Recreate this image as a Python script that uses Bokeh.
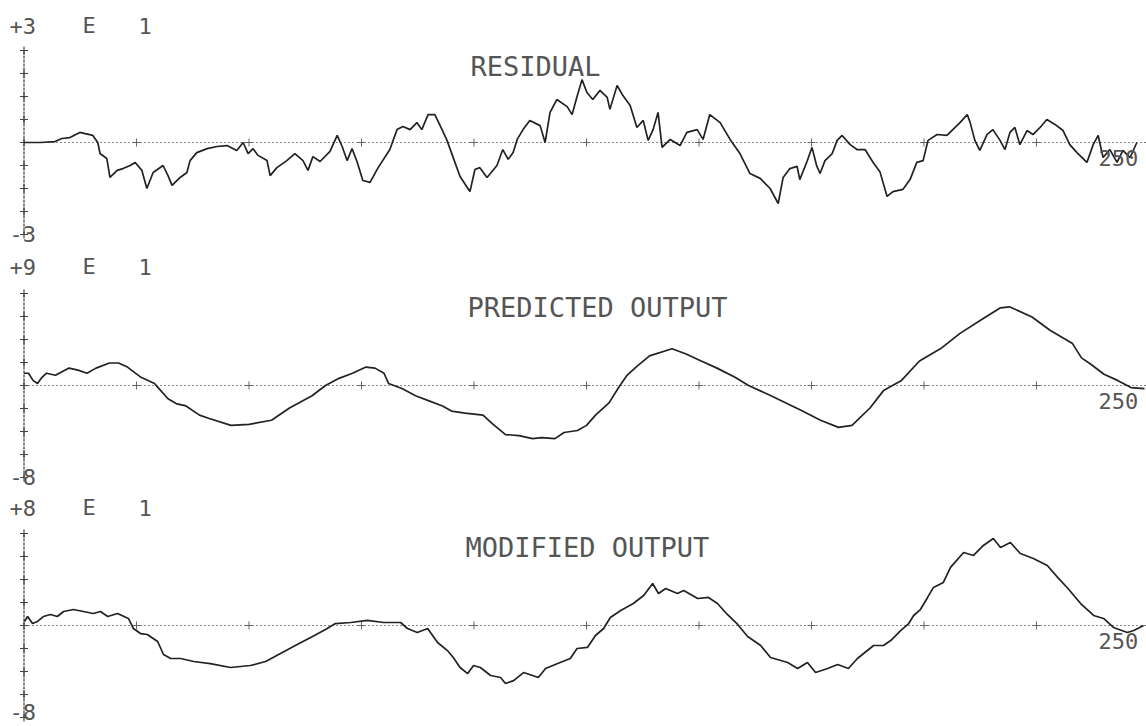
from bokeh.plotting import figure
from bokeh.layouts import column
from bokeh.models import Range1d
from bokeh.core.properties import value
from bokeh.embed import file_html
from bokeh.resources import INLINE

# ---------------- data ----------------
# panel 1: residual (units: axis top = +3 E 1 = 30)
res_x = [0, 3.6, 6.9, 8.4, 10.2, 12.4, 15.3, 16.4, 16.9, 18.4,
         19.1, 20.7, 22, 23.6, 24.7, 26.2, 27.3, 28.7, 30.9, 32,
         32.9, 34.7, 36.2, 36.9, 38.4, 40.7, 42.9, 45.1, 47.3, 48.7,
         49.8, 50.9, 52, 54, 54.7, 56.2, 58.4, 60.2, 62, 63.1,
         64.2, 65.8, 68, 69.6, 70.7, 71.8, 72.9, 74, 75.3, 76.9,
         78.7, 81.3, 82.9, 84.2, 85.8, 87.3, 88.4, 89.8, 91.3, 92.9,
         94, 95.3, 96.9, 99.1, 100.2, 101.3, 102.9, 105.1, 106.4, 107.6,
         108.7, 109.6, 110.9, 112.4, 114.7, 115.8, 116.9, 118.4, 120.7, 121.8,
         122.9, 124, 125.1, 126.4, 128, 129.6, 130.2, 131.8, 133.1, 134.7,
         136.2, 137.6, 138.7, 139.8, 140.9, 141.8, 143.6, 145.8, 147.3, 149.6,
         150.9, 152.4, 154.7, 156.9, 159.1, 161.3, 163.6, 165.8, 167.6, 168.7,
         170.2, 171.8, 172.4, 174, 175.1, 176.2, 176.9, 178, 179.6, 180.7,
         181.8, 183.6, 185.1, 186.9, 188.7, 190.2, 191.8, 193.1, 195.3, 196.9,
         198.4, 199.8, 200.9, 202.9, 205.1, 206.4, 208, 209.6, 210.2, 211.3,
         212.4, 214, 215.3, 216.9, 218, 219.1, 220.2, 221.3, 222.9, 224.2,
         225.8, 227.3, 229.1, 230.9, 232.4, 234, 236.2, 237.6, 238.7, 239.8,
         241.3, 242.9, 244.2, 245.8, 247.3]
res_y = [0, 0, 0.3, 1.3, 1.6, 3.3, 2.3, 0, -3.6, -5.2,
         -11.4, -9.1, -8.5, -7.5, -6.5, -9.1, -15, -9.8, -7.5, -10.8,
         -14, -11.4, -9.8, -5.9, -3.3, -2, -1.3, -1, -2.6, 0,
         -3.6, -2, -4.2, -5.9, -10.8, -8.2, -5.9, -3.6, -5.9, -9.1,
         -4.6, -6.2, -2.9, 2.3, -1.3, -5.9, -2, -6.2, -12.4, -13,
         -8.2, -2.3, 4.2, 5.2, 4.2, 6.5, 4.2, 9.1, 9.1, 4.2,
         0.7, -4.6, -11.1, -16, -8.8, -8.2, -11.4, -7.5, -2.3, -5.5,
         -3.3, 1, 4.2, 7.2, 5.5, 0, 9.8, 14, 11.7, 9.1,
         15, 20.5, 16.3, 14, 17, 14.7, 10.8, 18.6, 15.3, 12.1,
         4.9, 7.2, 0.7, 4.2, 9.8, -1.6, 1, -1, 3.3, 4.2,
         1, 9.1, 6.5, 1, -3.6, -10.1, -11.7, -15, -19.9, -11.4,
         -8.5, -7.8, -12.1, -6.2, -1.6, -7.8, -10.1, -5.9, -3.6, 0.7,
         2.3, -0.7, -2.3, -2.3, -6.5, -9.5, -17.6, -16, -15.3, -12.1,
         -6.5, -5.9, 0.7, 2.6, 2.3, 4.2, 6.5, 9.1, 6.8, 0.7,
         -2.6, 2.6, 4.2, 0.7, -2.3, 3.3, 4.9, -0.7, 3.9, 2.6,
         4.9, 7.5, 5.9, 3.9, -0.7, -3.3, -6.5, -0.7, 2.3, -4.9,
         -2.3, -6.5, -2.6, -4.9, 0]

# panel 2: predicted output (axis top = +9 E 1 = 90)
pred_x = [0, 1, 2, 3, 4, 5, 7, 10, 12, 14,
          16, 19, 21, 23, 26, 29, 30, 32, 34, 36,
          39, 41, 46, 50, 55, 59, 64, 67, 70, 73,
          76, 78, 80, 81, 84, 87, 90, 93, 95, 98,
          102, 104, 107, 110, 113, 115, 118, 120, 123, 125,
          127, 130, 132, 134, 136, 139, 144, 147, 150, 154,
          158, 161, 166, 173, 177, 181, 184, 188, 191, 195,
          199, 204, 208, 213, 217, 219, 224, 228, 233, 235,
          237, 240, 243, 246, 249]
pred_y = [12, 12, 5, 2, 8, 12, 10, 17, 15, 12,
          17, 22, 22, 18, 8, 2, -3, -13, -18, -20,
          -29, -32, -39, -38, -34, -22, -10, 0, 7, 12,
          18, 17, 12, 2, -3, -10, -15, -20, -25, -27,
          -29, -37, -48, -49, -52, -51, -52, -46, -44, -39,
          -29, -17, -3, 10, 18, 29, 36, 31, 25, 17,
          8, 0, -10, -25, -34, -41, -39, -22, -5, 5,
          24, 37, 51, 65, 76, 77, 67, 54, 41, 27,
          21, 11, 5, -2, -3]

# panel 3: modified output (axis top = +8 E 1 = 80)
mod_x = [0.1, 0.8, 1.9, 3, 4.3, 5.9, 7.4, 8.8, 11, 13.2,
         15.4, 17, 18.6, 20.8, 23.2, 24.3, 25.9, 27.4, 29.7, 31,
         32.6, 34.8, 37.7, 41.4, 45.9, 50.3, 53.7, 57, 60.3, 63.7,
         67, 69.2, 72.6, 76.3, 79.9, 83.7, 85.2, 87.4, 89.7, 91.9,
         94.1, 95.4, 96.9, 98.6, 99.9, 101.4, 103.7, 105.9, 107, 108.8,
         111, 113, 114.3, 115.9, 118.6, 121.4, 122.9, 125.2, 127, 128.8,
         130.3, 132.6, 135.4, 137.7, 139.7, 141, 142.6, 145.2, 146.6, 149.7,
         152.1, 154.1, 156.3, 158.6, 160.8, 163.7, 165.9, 169.7, 171.9, 174.1,
         175.9, 178.6, 180.8, 183.2, 185.2, 188.8, 191, 192.6, 194.8, 196.6,
         197.7, 199.2, 200.8, 202.1, 204.3, 205.9, 208.8, 211, 213.2, 215.4,
         217, 219.2, 221.4, 224.3, 227.4, 229.7, 232, 234.8, 237.7, 239.9,
         242.1, 245.2, 246.6, 248.8]
mod_y = [3.5, 7.8, 1.7, 3.5, 7.8, 9.6, 7.8, 12.2, 13.9, 12.2,
         10.4, 12.2, 7.8, 10.4, 6.1, -2.6, -7, -7.8, -13.9, -25.2,
         -28.7, -28.7, -31.3, -33.1, -36.5, -34.8, -31.3, -24.4, -17.4, -10.4,
         -3.5, 1.7, 2.6, 4.4, 2.6, 2.6, -2.6, -6.1, -2.6, -14.8,
         -21.8, -27.8, -36.5, -41.8, -34.8, -36.5, -43.5, -45.2, -50.5, -47.9,
         -40.9, -43.5, -45.2, -37.4, -33.1, -28.7, -20, -19.1, -8.7, -2.6,
         7, 13.1, 19.1, 26.1, 36.5, 27.8, 32.2, 27.8, 30.5, 23.5,
         24.4, 19.1, 9.6, 0.9, -9.6, -17.4, -27.8, -32.2, -37.4, -32.2,
         -40.9, -37.4, -33.9, -37.4, -28.7, -17.4, -17.4, -13.1, -4.4, 1.7,
         8.7, 13.9, 24.4, 33.1, 37.4, 50.5, 63.5, 60.9, 69.6, 75.7,
         67.9, 72.2, 62.6, 58.3, 52.2, 41.8, 32.2, 19.1, 8.7, 6.1,
         -1.7, -6.1, -4.4, 0]

titles = ["RESIDUAL", "PREDICTED OUTPUT", "MODIFIED OUTPUT"]
top_labels = [["+3", "E", "1"], ["+9", "E", "1"], ["+8", "E", "1"]]
bottom_labels = ["-3", "-8", "-8"]
full_scale = [30, 90, 80]
end_label = "250"
n_samples = 250
x_ticks = [25, 50, 75, 100, 125, 150, 175, 200, 225, 250]

# ---------------- layout / style ----------------
W = 1146
X0, PPX = 23.5, 4.5          # pixel of x=0, pixels per sample
AX_PX = 92.0                 # pixels from zero line to axis end
FONT = "DejaVu Sans Mono"
INK = "#222222"
TXT = "#555555"

# per panel: figure height, zero line, title pos, label rows (local pixels)
panel_layout = [
    dict(h=250, zero=142, title_x=470, title_y=66, top_y=25, bot_y=233),
    dict(h=242, zero=135, title_x=467, title_y=57, top_y=16, bot_y=226),
    dict(h=234, zero=133, title_x=465, title_y=55, top_y=15, bot_y=219),
]


def make_panel(xs, ys, title, top, bottom, S, L):
    k = AX_PX / S
    zero = L["zero"]
    H = L["h"]
    p = figure(width=W, height=H, output_backend="svg", toolbar_location=None,
               x_range=Range1d(-X0 / PPX, (W - X0) / PPX),
               y_range=Range1d(-(H - zero) / k, zero / k),
               x_axis_type=None, y_axis_type=None, min_border=0,
               background_fill_color="white", border_fill_color="white")
    p.grid.visible = False
    p.outline_line_color = None

    def dx(px):
        return (px - X0) / PPX

    def dy(py):
        return (zero - py) / k

    # zero line with ticks
    p.line([0, n_samples], [0, 0], line_color="#8a8a8a", line_width=1.2,
           line_dash="2 2")
    p.scatter(x_ticks, [0] * len(x_ticks), marker="cross", size=8,
              line_color="#666666", line_width=1)
    # vertical axis with ticks
    p.line([0, 0], [-S, S], line_color="#555555", line_width=1.4,
           line_dash="3 1")
    p.scatter([0] * 9, [S * i / 4 for i in range(-4, 5)], marker="cross",
              size=8, line_color="#444444", line_width=1.2)
    # data curve
    p.line(xs, ys, line_color=INK, line_width=1.7)

    # texts
    p.text(x=[dx(9), dx(82), dx(138)], y=[dy(L["top_y"])] * 3, text=top,
           text_font=value(FONT), text_font_size="22px", text_color=TXT,
           text_baseline="middle", text_align="left")
    p.text(x=[dx(9)], y=[dy(L["bot_y"])], text=[bottom],
           text_font=value(FONT), text_font_size="22px", text_color=TXT,
           text_baseline="middle", text_align="left")
    p.text(x=[dx(L["title_x"])], y=[dy(L["title_y"])], text=[title],
           text_font=value(FONT), text_font_size="27px", text_color=TXT,
           text_baseline="middle", text_align="left")
    p.text(x=[dx(1098)], y=[dy(zero + 15)], text=[end_label],
           text_font=value(FONT), text_font_size="22px", text_color=TXT,
           text_baseline="middle", text_align="left")
    return p


series = [(res_x, res_y), (pred_x, pred_y), (mod_x, mod_y)]
figs = []
for i in range(3):
    xs, ys = series[i]
    figs.append(make_panel(xs, ys, titles[i], top_labels[i], bottom_labels[i],
                           full_scale[i], panel_layout[i]))

p = column(*figs, spacing=0)
open("out.html", "w").write(file_html(p, INLINE))
